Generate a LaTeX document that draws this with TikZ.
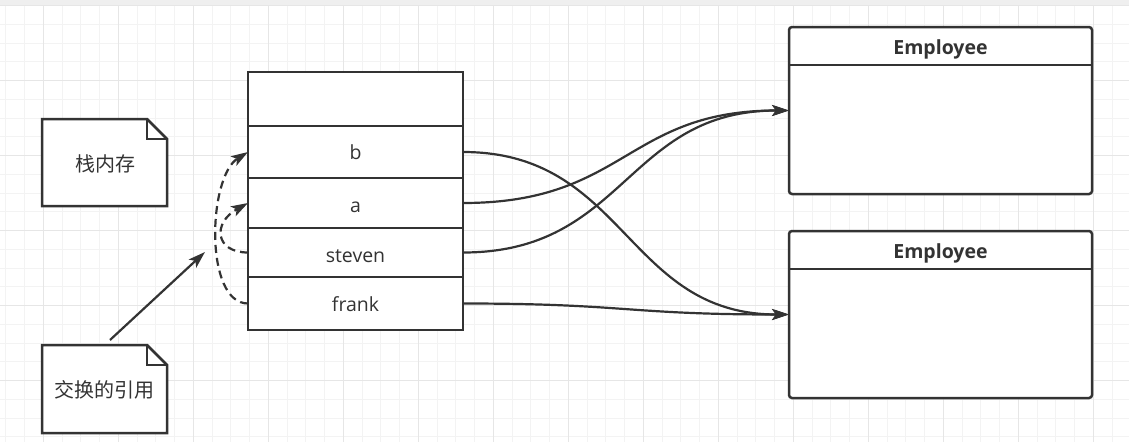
\documentclass[tikz,border=0pt]{standalone}
\usepackage{fontspec}
\setmainfont{Open Sans}
\newfontfamily\cjk{Noto Sans CJK SC}
\usetikzlibrary{arrows.meta,calc}
\definecolor{ink}{HTML}{333333}
\definecolor{gridminor}{HTML}{F3F3F3}
\definecolor{gridmajor}{HTML}{E6E6E6}
\definecolor{topbar}{HTML}{EFEFEF}
\begin{document}
\begin{tikzpicture}[x=1pt,y=-1pt,
  rowbox/.style={draw=ink, line width=2.5pt, fill=white, inner sep=0pt, outer sep=0pt,
    minimum width=215pt, anchor=north west},
  rowtext/.style={text=ink, font=\fontsize{19.5}{22}\selectfont, inner sep=0pt, anchor=base},
  empbox/.style={draw=ink, line width=2.5pt, fill=white, inner sep=0pt, outer sep=0pt,
    rounded corners=3pt, minimum width=303pt, minimum height=167pt, anchor=north west},
  emptitle/.style={text=ink, font=\fontsize{19.5}{22}\selectfont\bfseries, inner sep=0pt, anchor=base},
  notebox/.style={inner sep=0pt, outer sep=0pt, minimum width=125pt, minimum height=87pt},
  notetext/.style={text=ink, font=\fontsize{20}{22}\selectfont\cjk, inner sep=0pt},
  noteline/.style={draw=ink, line width=2.5pt, fill=white},
  conn/.style={draw=ink, line width=2.2pt, -{Stealth[length=17pt, width=11pt, inset=4pt]}},
  dconn/.style={conn, dash pattern=on 8pt off 5pt}
]
\useasboundingbox (0,0) rectangle (1129,442);
% background grid
\fill[white] (0,0) rectangle (1129,442);
\begin{scope}
\clip (0,0) rectangle (1129,442);
\foreach \i in {0,...,59} {
  \pgfmathsetmacro\xx{5.8+18.75*\i}
  \draw[gridminor, line width=1pt] (\xx,0) -- (\xx,442);
}
\foreach \i in {0,...,23} {
  \pgfmathsetmacro\yy{5.7+18.75*\i}
  \draw[gridminor, line width=1pt] (0,\yy) -- (1129,\yy);
}
\foreach \i in {0,...,14} {
  \pgfmathsetmacro\xx{43.3+75*\i}
  \draw[gridmajor, line width=1pt] (\xx,0) -- (\xx,442);
}
\foreach \i in {0,...,5} {
  \pgfmathsetmacro\yy{5.7+75*\i}
  \draw[gridmajor, line width=1pt] (0,\yy) -- (1129,\yy);
}
\end{scope}
\fill[topbar] (0,0) rectangle (1129,5);

% notes
\node[notebox] (n1) at (104.5,162.5) {};
\draw[noteline] (n1.north west) -- ($(n1.north east)+(-20,0)$) -- ($(n1.north east)+(0,20)$)
  -- (n1.south east) -- (n1.south west) -- cycle;
\draw[noteline, fill=none] ($(n1.north east)+(-20,0)$) -- ($(n1.north east)+(-20,20)$) -- ($(n1.north east)+(0,20)$);
\node[notetext] (n1t) at ($(n1.center)+(0.5,1)$) {栈内存};

\node[notebox, minimum height=88pt] (n2) at (104.5,389) {};
\draw[noteline] (n2.north west) -- ($(n2.north east)+(-20,0)$) -- ($(n2.north east)+(0,20)$)
  -- (n2.south east) -- (n2.south west) -- cycle;
\draw[noteline, fill=none] ($(n2.north east)+(-20,0)$) -- ($(n2.north east)+(-20,20)$) -- ($(n2.north east)+(0,20)$);
\node[notetext] (n2t) at ($(n2.center)+(0,1)$) {交换的引用};

% stack rows
\node[rowbox, minimum height=54pt] (top) at (248,72) {};
\node[rowbox, minimum height=52pt] (rb) at (248,126) {};
\node[rowbox, minimum height=50pt] (ra) at (248,178) {};
\node[rowbox, minimum height=49pt] (rs) at (248,228) {};
\node[rowbox, minimum height=53pt] (rf) at (248,277) {};
\node[rowtext] (rbt) at (355.5,159.5) {b};
\node[rowtext] (rat) at (355.5,212) {a};
\node[rowtext] (rst) at (355.5,262) {steven};
\node[rowtext] (rft) at (355.5,311) {frank};

% employees
\node[empbox] (e1) at (789,27) {};
\draw[ink, line width=2.5pt] ($(e1.north west)+(0,38)$) -- ($(e1.north east)+(0,38)$);
\node[emptitle] (e1t) at (940.5,54) {Employee};
\node[empbox] (e2) at (789,231) {};
\draw[ink, line width=2.5pt] ($(e2.north west)+(0,38)$) -- ($(e2.north east)+(0,38)$);
\node[emptitle] (e2t) at (940.5,258) {Employee};

% connectors right
\draw[conn] (rb.east) .. controls +(163,0) and +(-163,0) .. (e2.west);
\draw[conn] (ra.east) .. controls +(163,0) and +(-163,0) .. (e1.west);
\draw[conn] (rs.east) .. controls +(163,0) and +(-163,0) .. (e1.west);
\draw[conn] (rf.east) .. controls +(163,0) and +(-163,0) .. (e2.west);

% dashed swaps
\draw[dconn] (rf.west) .. controls +(-44,0) and +(-40,25) .. (rb.west);
\draw[dconn] (rs.west) .. controls +(-33,0) and +(-36,20) .. (ra.west);

% note arrow
\coordinate (s0) at (110,340);
\coordinate (s1) at (205,252);
\draw[conn] (s0) -- (s1);
\end{tikzpicture}
\end{document}
